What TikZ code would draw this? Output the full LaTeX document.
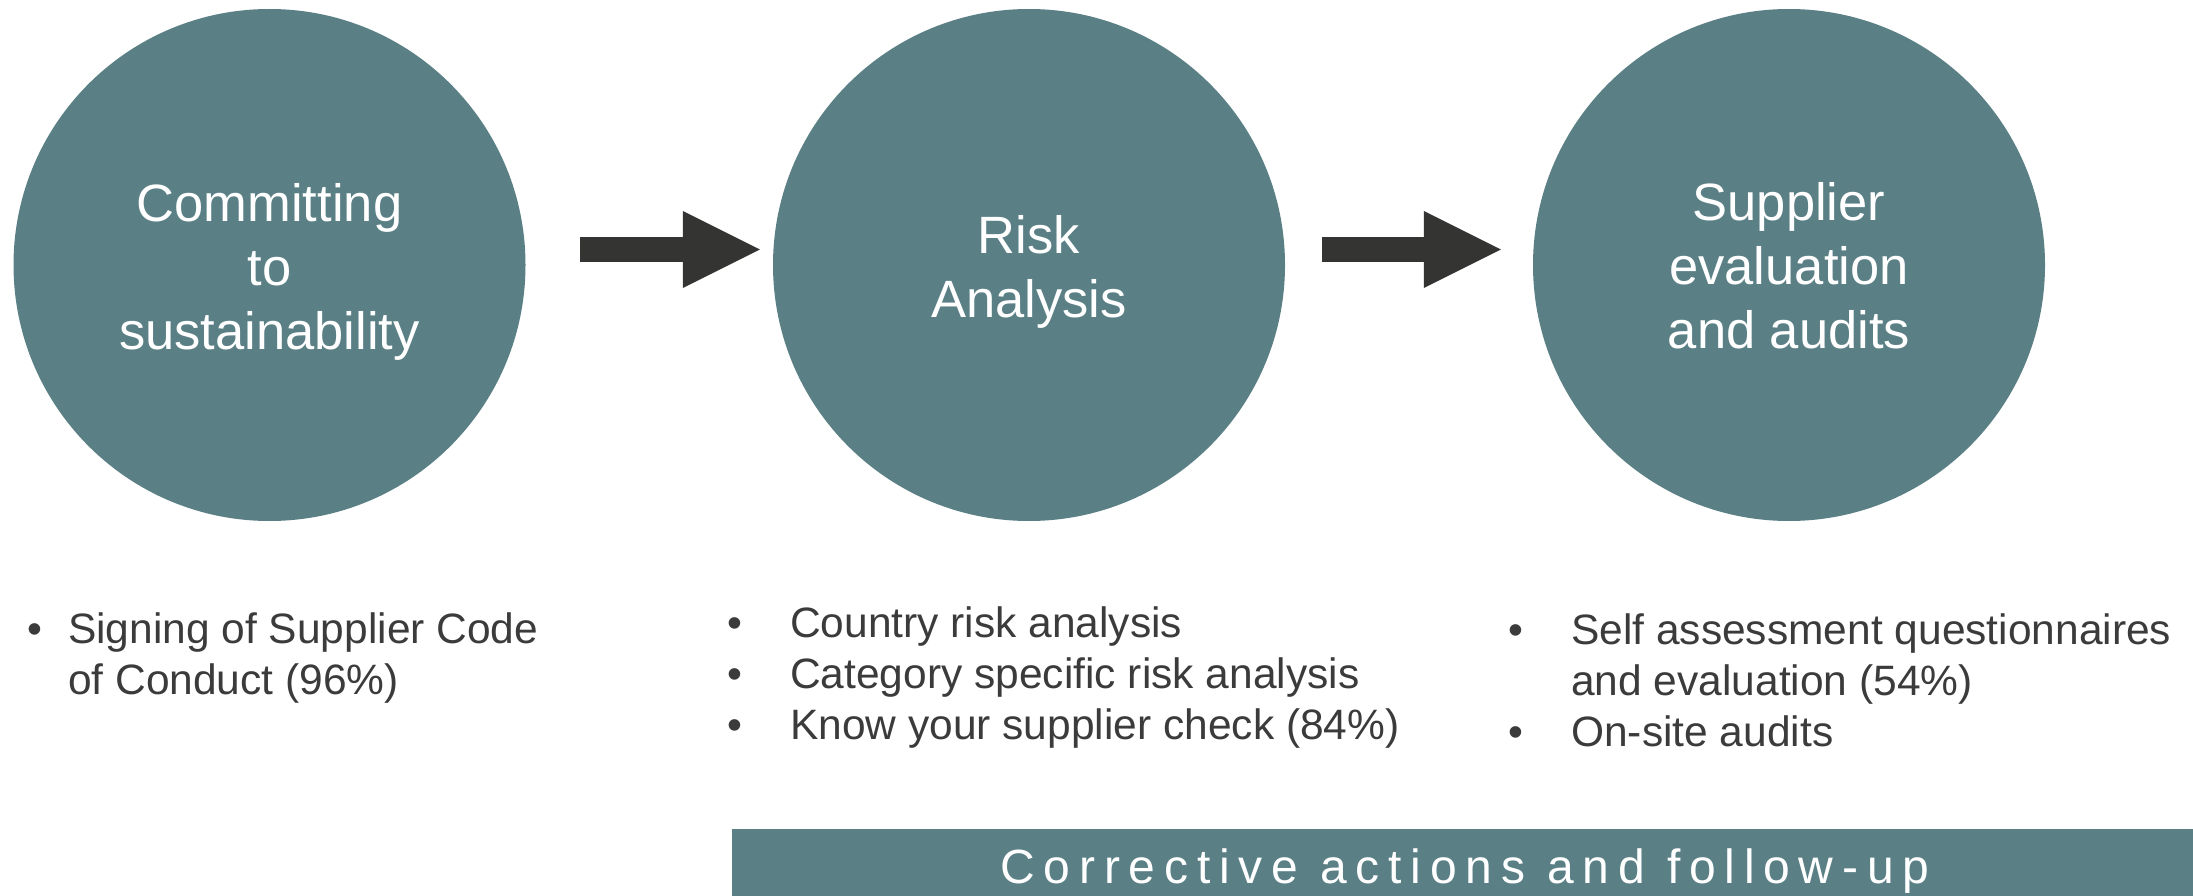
\documentclass[tikz,border=0pt]{standalone}
\usepackage{fontspec}
\setmainfont{Liberation Sans}
\usetikzlibrary{arrows.meta}
\definecolor{stepteal}{HTML}{5A8086}
\definecolor{arrowdark}{HTML}{343432}
\definecolor{listgray}{HTML}{3B3B3B}
\tikzset{
  stepcircle/.style={circle, fill=stepteal, draw=none, minimum size=512pt, inner sep=0pt},
  circtext/.style={text=white, align=center, font=\fontsize{52.5}{64}\selectfont, inner sep=0pt},
  bigarrow/.style={draw=arrowdark, line width=25pt, -{Triangle[length=77pt,width=77pt,line width=0pt]}},
  listnode/.style={text=listgray, font=\fontsize{42.5}{51}\selectfont, inner sep=0pt, anchor=base west},
  barbox/.style={fill=stepteal, minimum width=1461pt, minimum height=67pt, inner sep=0pt, anchor=north west},
  bartext/.style={text=white, font=\fontsize{48}{58}\selectfont\addfontfeature{LetterSpace=18.3}, inner sep=0pt, anchor=base},
}
\begin{document}
\begin{tikzpicture}[x=1pt,y=-1pt]
\useasboundingbox (0,0) rectangle (2193,896);
% circles
\node[stepcircle] (c1) at (269.5,265) {};
\node[stepcircle] (c2) at (1029,265) {};
\node[stepcircle] (c3) at (1789,265) {};
\node[circtext] (t1) at ([yshift=-6.5pt]c1.center) {Committing\\to\\sustainability};
\node[circtext] (t2) at ([yshift=-6.5pt]c2.center) {Risk\\Analysis};
\node[circtext] (t3) at ([yshift=-1pt]c3.center) {Supplier\\evaluation\\and audits};
% arrows
\draw[bigarrow] ([shift={(54.5,-15.5)}]c1.east) -- ([shift={(-13,-15.5)}]c2.west);
\draw[bigarrow] ([shift={(37,-15.5)}]c2.east) -- ([shift={(-32,-15.5)}]c3.west);
% bullet lists
\node[listnode] (l1) at (27.6,643) {\begin{tabular}[t]{@{}l@{}l@{}}\makebox[40.4pt][l]{\textbullet} & Signing of Supplier Code\\ & of Conduct (96\%)\end{tabular}};
\node[listnode] (l2) at (727.6,637) {\begin{tabular}[t]{@{}l@{}l@{}}\makebox[62.4pt][l]{\textbullet} & Country risk analysis\\ \makebox[62.4pt][l]{\textbullet} & Category specific risk analysis\\ \makebox[62.4pt][l]{\textbullet} & Know your supplier check (84\%)\end{tabular}};
\node[listnode] (l3) at (1508.6,644) {\begin{tabular}[t]{@{}l@{}l@{}}\makebox[62.4pt][l]{\textbullet} & Self assessment questionnaires\\ & and evaluation (54\%)\\ \makebox[62.4pt][l]{\textbullet} & On-site audits\end{tabular}};
% bottom bar
\node[barbox] (bar) at (732,829) {};
\node[bartext] (bt) at (1465,883) {Corrective actions and follow-up};
\end{tikzpicture}
\end{document}
